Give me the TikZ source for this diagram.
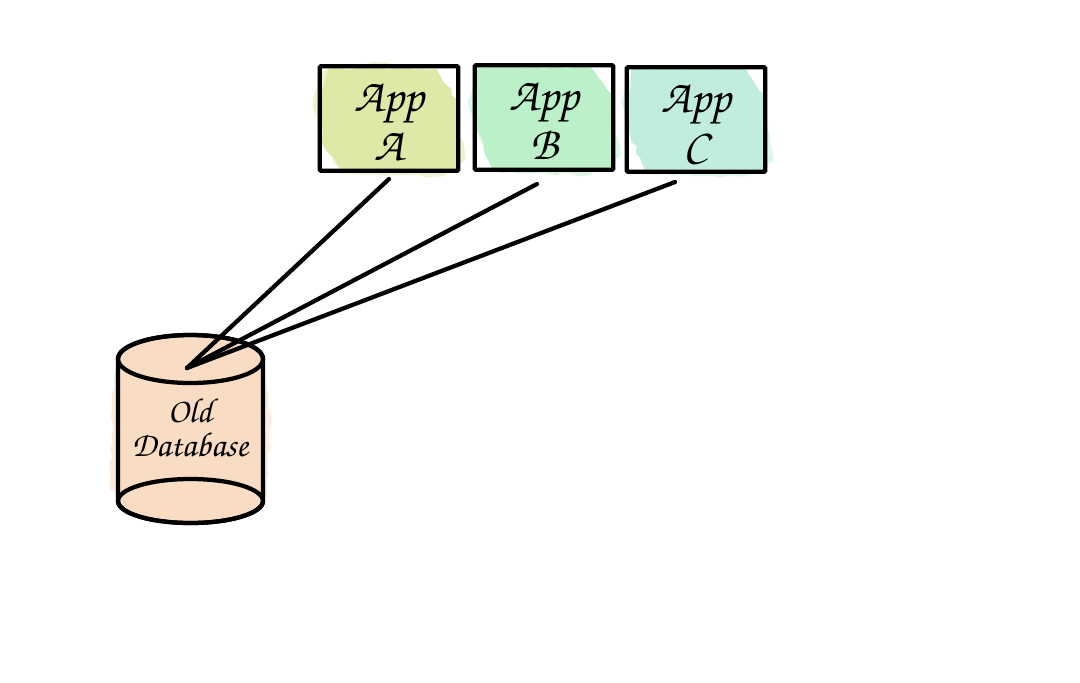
\documentclass[tikz,border=0pt]{standalone}
\usepackage[T1]{fontenc}
\usetikzlibrary{decorations.pathmorphing}
\tikzset{
  appbox/.style={draw=black,line width=3.2pt,rounded corners=1pt,minimum width=104pt,minimum height=78.5pt,inner sep=0pt,align=center,font=\fontfamily{pzc}\fontsize{35}{37}\selectfont},
  dbtext/.style={inner sep=0pt,align=center,font=\fontfamily{pzc}\fontsize{26}{25.5}\selectfont},
  dbline/.style={draw=black,line width=3.2pt},
  wire/.style={draw=black,line width=3.2pt,line cap=round},
  wash/.style={decorate,decoration={random steps,segment length=5pt,amplitude=1.2pt}}
}
\definecolor{washA}{RGB}{223,232,167}
\definecolor{washB}{RGB}{188,240,200}
\definecolor{washC}{RGB}{193,238,220}
\definecolor{washD}{RGB}{249,220,196}
\begin{document}
\begin{tikzpicture}[x=0.75pt,y=0.75pt,yscale=-1,xscale=1]
	\useasboundingbox (0,0) rectangle (1080,682);
	\fill [white] (0,0) rectangle (1080,682);
	
	%Paint washes
	\fill [wash,washA,opacity=0.5] (313,103) -- (322,72) -- (375,62) -- (436,70) -- (455,105) -- (466,160) -- (440,177) -- (340,174) -- (322,140) -- cycle;
	\fill [wash,washA] (320,106) -- (328,69) -- (436,69) -- (457,100) -- (459,170) -- (343,170) -- (323,145) -- cycle;
	\fill [wash,washB,opacity=0.5] (468,100) -- (478,68) -- (590,66) -- (610,100) -- (621,155) -- (590,175) -- (495,172) -- (478,135) -- cycle;
	\fill [wash,washB] (475,100) -- (478,67) -- (590,67) -- (612,95) -- (614,169) -- (492,169) -- (477,130) -- cycle;
	\fill [wash,washC,opacity=0.5] (621,102) -- (632,70) -- (745,68) -- (762,100) -- (774,160) -- (745,176) -- (650,174) -- (632,135) -- cycle;
	\fill [wash,washC] (628,105) -- (632,68) -- (746,68) -- (764,95) -- (766,171) -- (645,171) -- (630,135) -- cycle;
	\fill [wash,washD,opacity=0.5] (112,400) -- (118,350) -- (190,333) -- (262,350) -- (271,415) -- (266,500) -- (190,526) -- (110,490) -- cycle;
	
	%Old database
	\draw [dbline,fill=washD] (118,359) -- (118,501) arc [start angle=180,end angle=0,x radius=72.5,y radius=22] -- (263,359) arc [start angle=0,end angle=-180,x radius=72.5,y radius=24] -- cycle;
	\draw [dbline] (190.5,359) ellipse [x radius=72.5,y radius=24];
	\draw [dbline] (190.5,501) ellipse [x radius=72.5,y radius=22];
	
	% Text Node
	\node (olddb) [dbtext] at (190,427.5) {Old\\Database};
	
	% App boxes
	\node (appA) [appbox] at (389,118.5) {\rule{0pt}{27pt}App\\A};
	\node (appB) [appbox] at (544,117.5) {\rule{0pt}{27pt}App\\B};
	\node (appC) [appbox] at (696,119.5) {\rule{0pt}{27pt}App\\C};
	
	%Straight Lines
	\coordinate (dbin) at (187,368);
	\coordinate (endA) at (389,179);
	\coordinate (endB) at (537,184);
	\coordinate (endC) at (675,182);
	\draw [wire] (endA) -- (dbin);
	\draw [wire] (endB) -- (dbin);
	\draw [wire] (endC) -- (dbin);
	
\end{tikzpicture}
\end{document}
